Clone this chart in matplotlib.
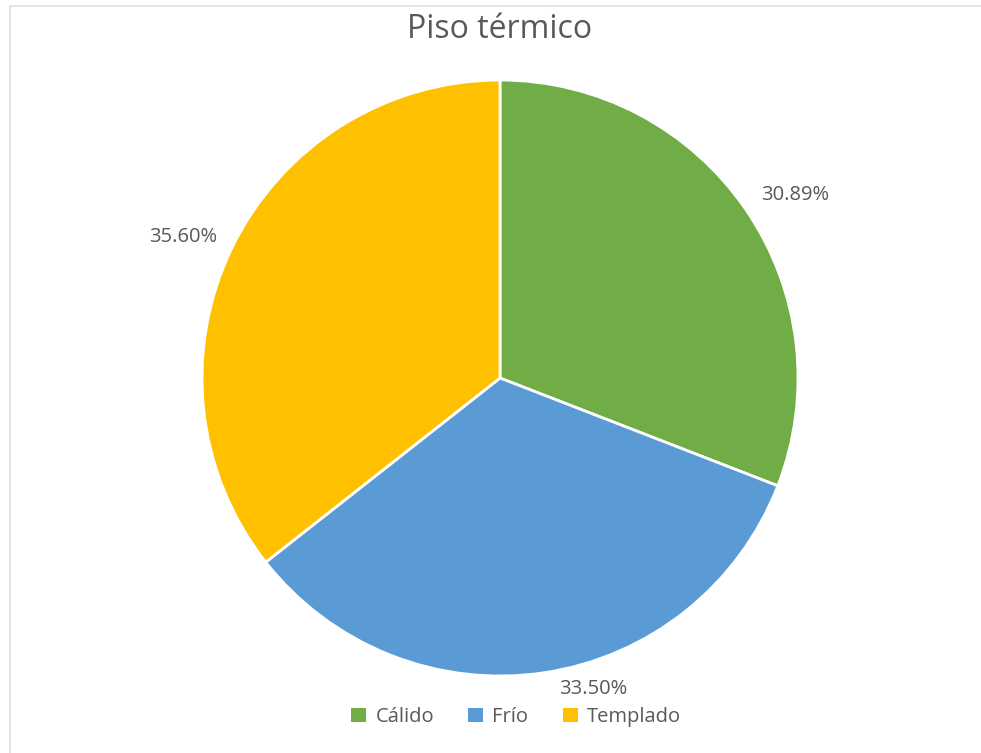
import numpy as np
import matplotlib.pyplot as plt
from matplotlib.patches import Patch
from matplotlib.lines import Line2D

plt.rcParams['font.family'] = ['Open Sans', 'DejaVu Sans']

categories = ['Cálido', 'Frío', 'Templado']
values = [30.89, 33.50, 35.60]
colors = ['#70AD47', '#5B9BD5', '#FFC000']
text_color = '#595959'
# where Excel's best-fit put each percentage label (angle in degrees, radius in pie radii)
label_angles = [31.8, -73.3, 156.0]
label_radii = [1.165, 1.09, 1.165]

W, H = 981, 753
fig = plt.figure(figsize=(W / 100, H / 100), dpi=100)

# pie centre and radius in pixels
cx, cy, r = 500, 378, 298
ax = fig.add_axes([(cx - r) / W, (H - cy - r) / H, 2 * r / W, 2 * r / H])
wedges, texts, autotexts = ax.pie(values, colors=colors, startangle=90, counterclock=False,
                                  autopct='%.2f%%', pctdistance=1.17,
                                  wedgeprops=dict(edgecolor='white', linewidth=2),
                                  textprops=dict(color=text_color, fontsize=14.5))
ax.set_xlim(-1, 1)
ax.set_ylim(-1, 1)
ax.set_aspect('equal')
ax.axis('off')

for t, a, d in zip(autotexts, label_angles, label_radii):
    a = np.deg2rad(a)
    t.set_position((d * np.cos(a), d * np.sin(a)))

fig.text(cx / W, 1 - 30 / H, 'Piso térmico', ha='center', va='center',
         fontsize=23, color=text_color)

handles = [Patch(facecolor=c, edgecolor='none') for c in colors]
fig.legend(handles, categories, loc='center', bbox_to_anchor=(516 / W, 1 - 717 / H),
           ncol=3, frameon=False, fontsize=14.5, labelcolor=text_color,
           handlelength=0.75, handleheight=0.75, handletextpad=0.45, columnspacing=1.7)

# thin grey frame along the top and left edges
fig.add_artist(Line2D([10 / W, 10 / W], [0, 1 - 6 / H], color='#e6e6e6', lw=1.5,
                      transform=fig.transFigure))
fig.add_artist(Line2D([10 / W, 1], [1 - 6 / H, 1 - 6 / H], color='#e6e6e6', lw=1.5,
                      transform=fig.transFigure))

fig.savefig('out.png', dpi=100, facecolor='white')
